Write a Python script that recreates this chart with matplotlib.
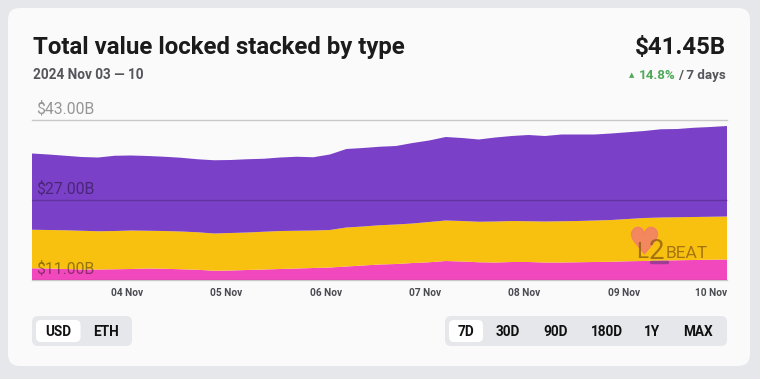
import numpy as np
import pandas as pd
import matplotlib
matplotlib.use("Agg")
import matplotlib.pyplot as plt
import matplotlib.dates as mdates
from matplotlib.patches import FancyBboxPatch

plt.rcParams['font.family'] = ['Roboto', 'DejaVu Sans']

# time axis: every 4 hours, 2024-11-03 01:00 -> 2024-11-10 01:00
times = pd.date_range('2024-11-03 01:00', periods=43, freq='4h')

# values in $B
native = [13.35, 13.30, 13.20, 13.10, 13.10, 13.15, 13.20, 13.30, 13.25, 13.15, 13.05,
          12.85, 12.90, 13.00, 13.10, 13.20, 13.30, 13.40, 13.50, 13.70, 13.90, 14.10,
          14.20, 14.40, 14.55, 14.80, 14.70, 14.55, 14.50, 14.60, 14.60, 14.50, 14.50,
          14.55, 14.60, 14.65, 14.75, 14.80, 14.90, 14.95, 15.00, 15.05, 15.10]
external = [7.70, 7.70, 7.75, 7.75, 7.65, 7.65, 7.70, 7.55, 7.55, 7.55, 7.50,
            7.45, 7.50, 7.50, 7.55, 7.60, 7.55, 7.50, 7.50, 7.80, 7.80, 7.85,
            7.90, 7.90, 8.05, 8.10, 8.10, 8.10, 8.20, 8.20, 8.15, 8.20, 8.25,
            8.25, 8.30, 8.35, 8.45, 8.60, 8.60, 8.60, 8.60, 8.60, 8.60]
canonical = [15.25, 15.10, 14.90, 14.75, 14.75, 15.05, 15.00, 14.95, 14.85, 14.75, 14.60,
             14.65, 14.60, 14.65, 14.60, 14.70, 14.80, 14.65, 15.10, 15.70, 15.70, 15.70,
             15.70, 16.10, 16.30, 16.70, 16.60, 16.45, 16.80, 17.00, 17.25, 17.10, 17.35,
             17.30, 17.20, 17.30, 17.35, 17.40, 17.65, 17.65, 17.85, 17.95, 18.10]

grid_values = [11, 27, 43]
grid_labels = ['$11.00B', '$27.00B', '$43.00B']
tick_days = pd.date_range('2024-11-04', periods=6, freq='D')
tick_labels = ['04 Nov', '05 Nov', '06 Nov', '07 Nov', '08 Nov', '09 Nov', '10 Nov']
units = ['USD', 'ETH']
ranges = ['7D', '30D', '90D', '180D', '1Y', 'MAX']

W, H = 760, 379
fig = plt.figure(figsize=(W / 100, H / 100), dpi=100)
fig.patch.set_facecolor('#e6e7eb')

# background / card layer in pixel coordinates
bg = fig.add_axes([0, 0, 1, 1], zorder=0)
bg.set_xlim(0, W)
bg.set_ylim(H, 0)
bg.axis('off')
bg.add_patch(FancyBboxPatch((8, 8), 742, 358, boxstyle='round,pad=0,rounding_size=12',
                            fc='#fafafa', ec='none'))

bg.text(33, 54, 'Total value locked stacked by type', fontsize=17.3, fontweight='bold',
        color='#1b1b1b', va='baseline')
bg.text(33, 79, '2024 Nov 03 \u2014 10', fontsize=9.8, fontweight='bold',
        color='#55555c', va='baseline')
bg.text(726, 54, '$41.45B', fontsize=17.3, fontweight='bold', color='#1b1b1b',
        ha='right', va='baseline')
bg.text(726, 79, '/ 7 days', fontsize=9.6, fontweight='bold', color='#55555c',
        ha='right', va='baseline')
bg.text(676, 79, '14.8%', fontsize=9.6, fontweight='bold', color='#4fa95a',
        ha='right', va='baseline')
bg.text(632, 77, '\u25b2', fontsize=5, color='#4fa95a', ha='center', va='baseline',
        family=['DejaVu Sans'])

# button groups
bg.add_patch(FancyBboxPatch((32, 316), 100, 30, boxstyle='round,pad=0,rounding_size=6',
                            fc='#e6e7eb', ec='none'))
bg.add_patch(FancyBboxPatch((36, 320), 44.5, 22, boxstyle='round,pad=0,rounding_size=5',
                            fc='white', ec='none'))
for lab, x in zip(units, [58, 106.5]):
    bg.text(x, 331.5, lab, fontsize=9.8, fontweight='bold', color='#111111',
            ha='center', va='center')
bg.add_patch(FancyBboxPatch((445, 316), 282, 30, boxstyle='round,pad=0,rounding_size=6',
                            fc='#e6e7eb', ec='none'))
bg.add_patch(FancyBboxPatch((449, 320), 34, 22, boxstyle='round,pad=0,rounding_size=5',
                            fc='white', ec='none'))
for lab, x in zip(ranges, [466, 508, 555.5, 607, 652.5, 698]):
    bg.text(x, 331.5, lab, fontsize=9.8, fontweight='bold', color='#111111',
            ha='center', va='center')

# chart
ax = fig.add_axes([32 / W, 1 - 280 / H, 695 / W, 160 / H], zorder=1)
ax.patch.set_alpha(0)
ax.stackplot(times, native, external, canonical,
             colors=['#f248bd', '#f9c10f', '#7b40c8'], linewidth=0)
ax.set_xlim(times[0], times[-1])
ax.set_ylim(11, 43)
for s in ax.spines.values():
    s.set_visible(False)
ax.set_yticks([])

for v, lab in zip(grid_values, grid_labels):
    ax.axhline(v, color='black', alpha=0.2, lw=1, zorder=3, clip_on=False)
    ax.annotate(lab, xy=(0, v), xycoords=('axes fraction', 'data'),
                xytext=(3, 4.5), textcoords='offset points', fontsize=11.3,
                color='black', alpha=0.4, va='baseline', ha='left',
                annotation_clip=False, zorder=4)

ax.set_xticks(list(tick_days) + [times[-1]])
ax.set_xticklabels(tick_labels)
ax.tick_params(axis='x', length=0, pad=6, labelsize=7.3, labelcolor='#4a4a52')
for t in ax.get_xticklabels():
    t.set_fontweight('bold')
ax.get_xticklabels()[-1].set_ha('right')

# watermark: filled heart marker plus letters
ax.plot([0.881], [0.25], transform=ax.transAxes, marker='$\u2665$',
        markersize=19, color='#f27d6b', alpha=0.85, ls='none', zorder=5)
ax.text(0.886, 0.135, 'L', transform=ax.transAxes, fontsize=16, color='#8a5a10',
        alpha=0.75, ha='right', va='baseline', zorder=6)
ax.text(0.899, 0.13, '2', transform=ax.transAxes, fontsize=20, color='#8a5a10',
        alpha=0.75, ha='center', va='baseline', zorder=6)
ax.text(0.911, 0.135, 'BEAT', transform=ax.transAxes, fontsize=12.5, color='#8a5a10',
        alpha=0.75, ha='left', va='baseline', zorder=6)
ax.plot([0.890, 0.914], [0.11, 0.11], transform=ax.transAxes, color='#8a3a8a',
        lw=2.5, alpha=0.8, solid_capstyle='round', zorder=6)

fig.savefig('out.png', dpi=100, facecolor=fig.get_facecolor())
